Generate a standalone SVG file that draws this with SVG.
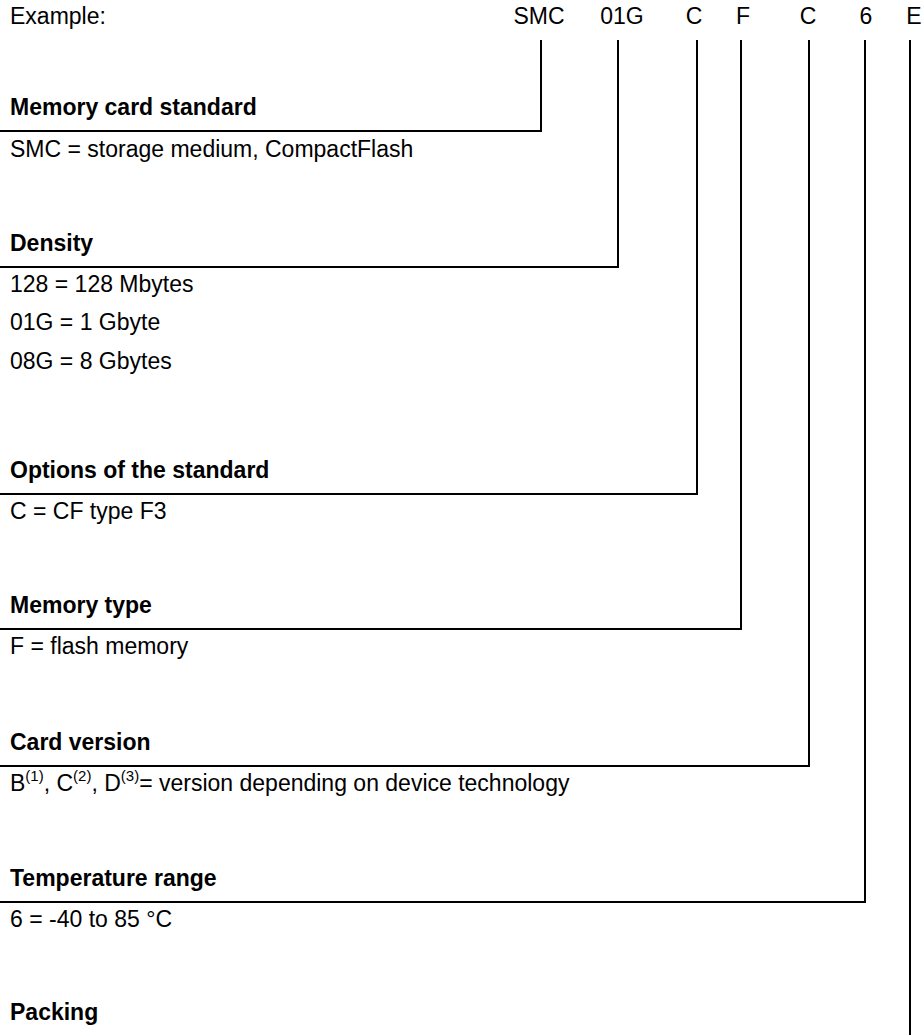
<svg xmlns="http://www.w3.org/2000/svg" width="923" height="1035" viewBox="0 0 923 1035">
<style>
text{font-family:"Liberation Sans",Arial,sans-serif;font-size:23px;fill:#000}
.b{font-weight:bold}
.c{text-anchor:middle}
.s{font-size:15px}
.ln{stroke:#000;stroke-width:2;fill:none}
</style>
<rect width="923" height="1035" fill="#fff"/>
<g id="header">
<text x="10" y="24">Example:</text>
<text class="c" x="539" y="24">SMC</text>
<text class="c" x="622" y="24">01G</text>
<text class="c" x="694" y="24">C</text>
<text class="c" x="743" y="24">F</text>
<text class="c" x="808" y="24">C</text>
<text class="c" x="866" y="24">6</text>
<text class="c" x="914" y="24">E</text>
</g>
<g id="connectors">
<polyline class="ln" points="541,40 541,131 0,131"/>
<polyline class="ln" points="618,40 618,267 0,267"/>
<polyline class="ln" points="697,40 697,494 0,494"/>
<polyline class="ln" points="741,40 741,629 0,629"/>
<polyline class="ln" points="809,40 809,766 0,766"/>
<polyline class="ln" points="865,40 865,902 0,902"/>
<polyline class="ln" points="910,40 910,1035"/>
</g>
<g id="memory-card-standard">
<text class="b" x="10" y="115">Memory card standard</text>
<text x="10" y="157">SMC = storage medium, CompactFlash</text>
</g>
<g id="density">
<text class="b" x="10" y="251">Density</text>
<text x="10" y="292">128 = 128 Mbytes</text>
<text x="10" y="330">01G = 1 Gbyte</text>
<text x="10" y="369">08G = 8 Gbytes</text>
</g>
<g id="options">
<text class="b" x="10" y="478">Options of the standard</text>
<text x="10" y="519">C = CF type F3</text>
</g>
<g id="memory-type">
<text class="b" x="10" y="613">Memory type</text>
<text x="10" y="654">F = flash memory</text>
</g>
<g id="card-version">
<text class="b" x="10" y="750">Card version</text>
<text x="10" y="791">B<tspan class="s" dy="-10">(1)</tspan><tspan dy="10">, C</tspan><tspan class="s" dy="-10">(2)</tspan><tspan dy="10">, D</tspan><tspan class="s" dy="-10">(3)</tspan><tspan dy="10">= version depending on device technology</tspan></text>
</g>
<g id="temperature-range">
<text class="b" x="10" y="886">Temperature range</text>
<text x="10" y="927">6 = -40 to 85 °C</text>
</g>
<g id="packing">
<text class="b" x="10" y="1020">Packing</text>
</g>
</svg>
